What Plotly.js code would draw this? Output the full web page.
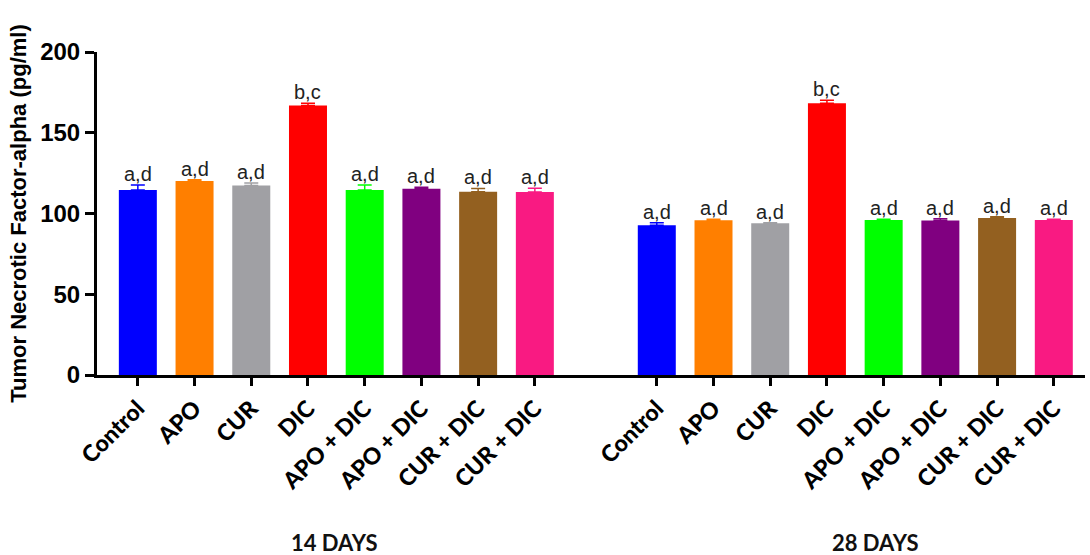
<!DOCTYPE html>
<html>
<head>
<meta charset="utf-8">
<script src="https://cdn.plot.ly/plotly-3.0.1.min.js"></script>
<style>html,body{margin:0;padding:0;background:#fff;}#chart{width:1090px;height:555px;}</style>
</head>
<body>
<div id="chart"></div>
<script>
const categories = ["Control", "APO", "CUR", "DIC", "APO + DIC", "APO + DIC", "CUR + DIC", "CUR + DIC"];
const groups = ["14 DAYS", "28 DAYS"];
const values14 = [114.6, 120.1, 117.4, 166.8, 114.6, 115.4, 113.5, 113.3];
const errors14 = [3.0, 0.8, 1.5, 1.5, 3.0, 0.8, 2.0, 2.3];
const values28 = [92.7, 95.8, 93.9, 168.2, 96.0, 95.6, 97.2, 96.0];
const errors28 = [1.5, 0.7, 0.4, 1.9, 0.5, 1.2, 0.8, 0.5];
const letters14 = ["a,d", "a,d", "a,d", "b,c", "a,d", "a,d", "a,d", "a,d"];
const letters28 = ["a,d", "a,d", "a,d", "b,c", "a,d", "a,d", "a,d", "a,d"];
const colors = ["#0000FF", "#FF7F00", "#A0A0A4", "#FF0000", "#00FF00", "#800080", "#936020", "#F91A82"];

const offset28 = 9.15;
const pos14 = categories.map((c, i) => i);
const pos28 = categories.map((c, i) => i + offset28);

const traces = categories.map((c, i) => ({
  type: "bar",
  x: [pos14[i], pos28[i]],
  y: [values14[i], values28[i]],
  width: 0.67,
  marker: {color: colors[i], line: {width: 0}},
  error_y: {type: "data", array: [errors14[i], errors28[i]], visible: true, color: colors[i], thickness: 1.5, width: 7, symmetric: false},
  hoverinfo: "skip",
  showlegend: false
}));

const letterFont = {family: "Liberation Sans, Arial", size: 20, color: "#222"};
const annotations = [];
categories.forEach((c, i) => {
  annotations.push({x: pos14[i], y: values14[i] + errors14[i], xref: "x", yref: "y", text: letters14[i], showarrow: false, yanchor: "bottom", yshift: -2, font: letterFont});
  annotations.push({x: pos28[i], y: values28[i] + errors28[i], xref: "x", yref: "y", text: letters28[i], showarrow: false, yanchor: "bottom", yshift: -2, font: letterFont});
});
const dayFont = {family: "Lato", size: 22, color: "#111", weight: 700};
annotations.push({x: 3.45, y: 0, xref: "x", yref: "paper", yshift: -167, text: groups[0], showarrow: false, yanchor: "middle", font: dayFont});
annotations.push({x: offset28 + 3.85, y: 0, xref: "x", yref: "paper", yshift: -167, text: groups[1], showarrow: false, yanchor: "middle", font: dayFont});

const layout = {
  width: 1090, height: 555,
  margin: {l: 97, r: 5, t: 52, b: 180},
  paper_bgcolor: "#fff", plot_bgcolor: "#fff",
  barmode: "overlay",
  xaxis: {
    range: [-0.72, 16.7],
    tickvals: pos14.concat(pos28),
    ticktext: categories.concat(categories),
    tickangle: -45,
    ticks: "outside", ticklen: 8, tickwidth: 3, tickcolor: "#000",
    showline: true, linecolor: "#000", linewidth: 3,
    showgrid: false, zeroline: false,
    tickfont: {family: "Lato", size: 23, color: "#000", weight: 900}
  },
  yaxis: {
    range: [0, 200],
    tickvals: [0, 50, 100, 150, 200],
    ticks: "outside", ticklen: 9, tickwidth: 3, tickcolor: "#000",
    showline: true, linecolor: "#000", linewidth: 3,
    showgrid: false, zeroline: false,
    tickfont: {family: "Liberation Sans, Arial", size: 24, color: "#000", weight: 700},
    title: {text: "Tumor Necrotic Factor-alpha (pg/ml)", font: {family: "Liberation Sans, Arial", size: 22, color: "#000", weight: 700}, standoff: 8}
  },
  annotations: annotations
};

Plotly.newPlot("chart", traces, layout, {displayModeBar: false, staticPlot: true});
</script>
</body>
</html>
